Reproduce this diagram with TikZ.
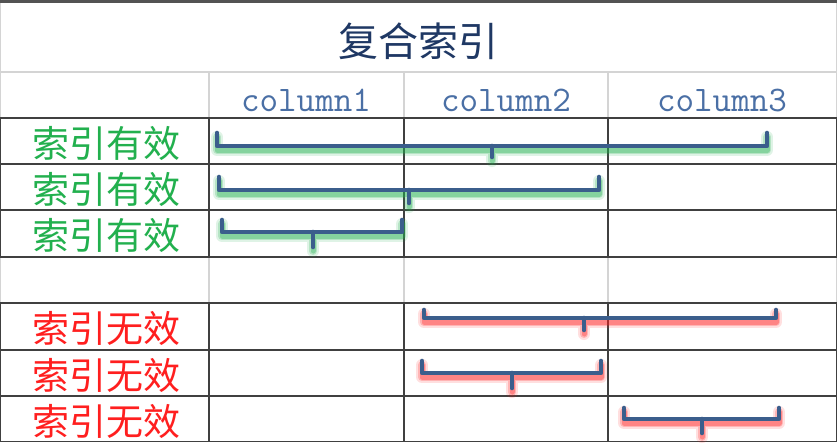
\documentclass[tikz,border=0pt]{standalone}
\usepackage{fontspec}
\newfontfamily\cjk{Noto Sans CJK SC}
\usetikzlibrary{calc}
\definecolor{ixnavy}{HTML}{1F3864}
\definecolor{ixsteel}{HTML}{4A6FA5}
\definecolor{ixbar}{HTML}{3B5E8C}
\definecolor{ixgreen}{HTML}{22B04E}
\definecolor{ixred}{HTML}{FF1F1F}
\definecolor{ixgrid}{HTML}{404040}
\definecolor{ixlight}{HTML}{D4D4D4}

\begin{document}
\begin{tikzpicture}[
  x=1pt, y=-1pt,
  heavy/.style={draw=ixgrid, line width=1.4pt},
  faint/.style={draw=ixlight, line width=1.2pt},
  title/.style={font=\cjk\fontsize{40}{42}\selectfont, text=ixnavy},
  colhead/.style={font=\ttfamily\fontsize{36}{38}\selectfont, text=ixsteel},
  okrow/.style={font=\cjk\fontsize{37}{39}\selectfont, text=ixgreen},
  badrow/.style={font=\cjk\fontsize{37}{39}\selectfont, text=ixred},
  brace/.style={draw=ixbar, line width=4.6pt, line join=round, line cap=round},
  glow/.style={draw=#1, line width=12pt, opacity=0.14, line join=round, line cap=round},
  glowmid/.style={draw=#1, line width=8pt, opacity=0.22, line join=round, line cap=round},
  glowcore/.style={draw=#1, line width=5pt, opacity=0.32, line join=round, line cap=round},
]
\useasboundingbox (0,0) rectangle (837,442);
\fill[white] (0,0) rectangle (837,442);
\fill[ixgrid!90] (0,0) rectangle (837,3);

%% Gitter
\draw[faint] (0.6,3) -- (0.6,118) (0,72) -- (837,72) (836.4,3) -- (836.4,118);
\foreach \xx in {209,404,608} \draw[faint] (\xx,72) -- (\xx,118);
\foreach \xx in {0.7,209,404,608,836.3} \draw[faint] (\xx,257) -- (\xx,303);
\foreach \yy in {118,164,210,257,303,350,396,441.3} \draw[heavy] (0,\yy) -- (837,\yy);
\foreach \xx in {0.7,209,404,608,836.3} {
  \draw[heavy] (\xx,118) -- (\xx,257);
  \draw[heavy] (\xx,303) -- (\xx,442);
}

%% Titel und Spaltenkoepfe
\node[title] (head) at (418,41) {复合索引};
\node[colhead] (c1) at (306,100) {column1};
\node[colhead] (c2) at (506,100) {column2};
\node[colhead] (c3) at (722,100) {column3};

%% Zeilen
\foreach \yy/\nm in {143/ok1,189/ok2,235/ok3}
  \node[okrow] (\nm) at (106,\yy) {索引有效};
\foreach \yy/\nm in {328/bad1,375/bad2,421/bad3}
  \node[badrow] (\nm) at (106,\yy) {索引无效};

%% Klammern (links, rechts, oben, Linie, Mitte, unten, Farbe)
\foreach \l/\r/\t/\h/\m/\b/\c in {
  217/767/133/146/492/157/ixgreen,
  219/599/177/190/409/203/ixgreen,
  222/402/220/232/313/247/ixgreen,
  424/776/310/318/584/330/ixred,
  422/601/361/373/512/388/ixred,
  624/779/408/419/702/433/ixred} {
  \begin{scope}[shift={(0,4)}]
    \draw[glow=\c] (\l,\t) -- (\l,\h) -- (\r,\h) -- (\r,\t) (\m,\h) -- (\m,\b);
    \draw[glowmid=\c] (\l,\t) -- (\l,\h) -- (\r,\h) -- (\r,\t) (\m,\h) -- (\m,\b);
    \draw[glowcore=\c] (\l,\t) -- (\l,\h) -- (\r,\h) -- (\r,\t) (\m,\h) -- (\m,\b);
  \end{scope}
  \draw[brace] (\l,\t) -- (\l,\h) -- (\r,\h) -- (\r,\t) (\m,\h) -- (\m,\b);
}

\end{tikzpicture}
\end{document}
